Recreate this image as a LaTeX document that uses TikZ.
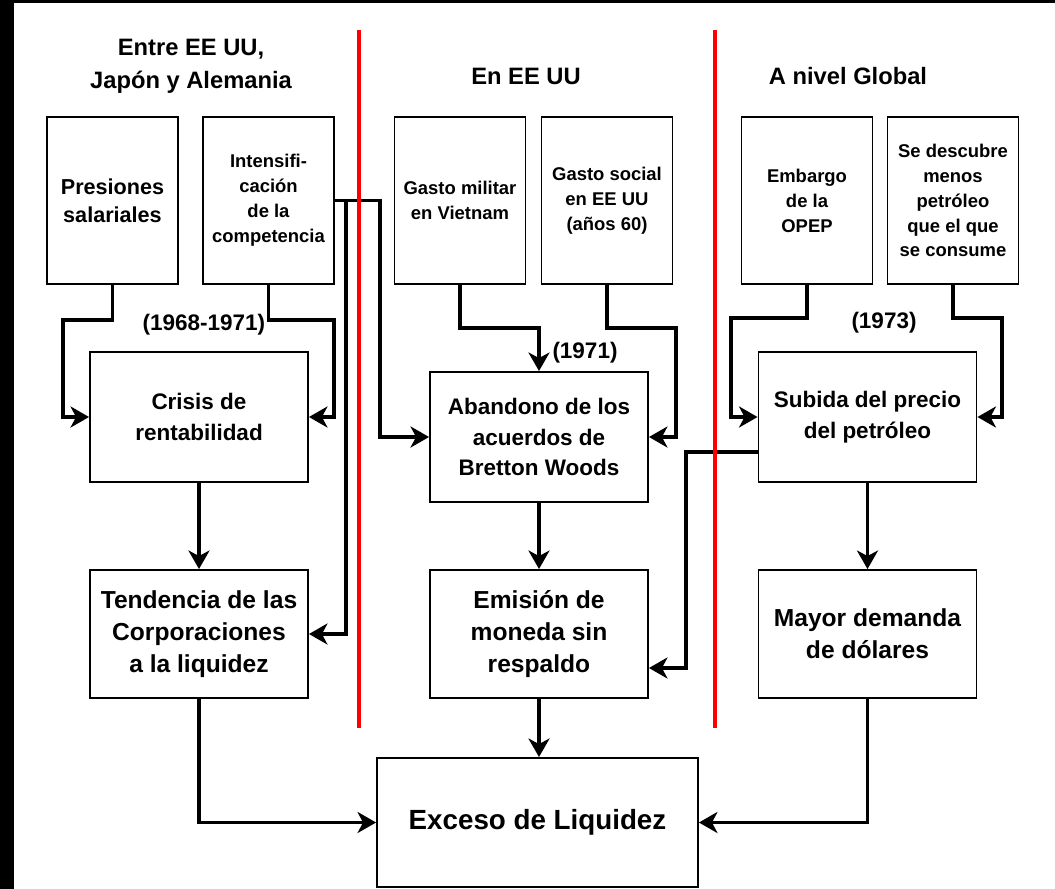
\documentclass[tikz,border=0pt]{standalone}
\usepackage{fontspec}
\setmainfont{Liberation Sans}
\usetikzlibrary{arrows.meta,calc}

\newcommand{\letrachica}{\fontsize{10.5}{14.2}\selectfont}
\newcommand{\letramedia}{\fontsize{12.8}{17.6}\selectfont}
\newcommand{\letragrande}{\fontsize{14}{18.2}\selectfont}
\newcommand{\letratitulo}{\fontsize{13.5}{18.8}\selectfont}

\tikzset{
  caja/.style={draw, line width=1.1pt, align=center, inner sep=0pt},
  cajaalta/.style={caja, minimum width=2.62cm, minimum height=3.34cm, font=\bfseries\letrachica},
  cajaancha/.style={caja, minimum width=4.36cm, minimum height=2.6cm, font=\bfseries\letramedia},
  flecha/.style={line width=2pt, -{Stealth[length=0.37cm,width=0.42cm,inset=0.11cm]}},
  divisor/.style={red, line width=2pt},
}

\begin{document}
\begin{tikzpicture}[x=0.02cm, y=-0.02cm]
    \useasboundingbox (0,0) rectangle (1055,889);
    % marco
    \fill[black] (0,0) rectangle (14,889);
    \fill[black] (0,0) rectangle (1055,3);

    % titulos
    \node[font=\bfseries\letratitulo, align=center] (titulo1) at (191,66) {Entre EE UU,\\Japón y Alemania};
    \node[font=\bfseries\letratitulo] (titulo2) at (526,76) {En EE UU};
    \node[font=\bfseries\letratitulo] (titulo3) at (848,76) {A nivel Global};

    % causas
    \node[cajaalta, font=\bfseries\fontsize{12.3}{16}\selectfont] (presiones) at (112.5,200.5) {Presiones\\salariales};
    \node[cajaalta] (competencia) at (268.5,200.5) {Intensifi-\\cación\\de la\\competencia};
    \node[cajaalta] (militar) at (460,200.5) {Gasto militar\\en Vietnam};
    \node[cajaalta] (social) at (607,200.5) {Gasto social\\en EE UU\\(años 60)};
    \node[cajaalta] (embargo) at (807,200.5) {Embargo\\de la\\OPEP};
    \node[cajaalta] (descubre) at (953,200.5) {Se descubre\\menos\\petróleo\\que el que\\se consume};

    \node[cajaancha] (crisis) at (199,417) {Crisis de\\rentabilidad};
    \node[cajaancha] (bretton) at (539,437) {Abandono de los\\acuerdos de\\Bretton Woods};
    \node[cajaancha] (subida) at (867.5,417) {Subida del precio\\del petróleo};

    \node[cajaancha, minimum height=2.56cm, font=\bfseries\letragrande] (tendencia) at (199,634) {Tendencia de las\\Corporaciones\\a la liquidez};
    \node[cajaancha, minimum height=2.56cm, font=\bfseries\letragrande] (emision) at (539,634) {Emisión de\\moneda sin\\respaldo};
    \node[cajaancha, minimum height=2.56cm, font=\bfseries\letragrande] (demanda) at (867.5,634) {Mayor demanda\\de dólares};

    \node[caja, minimum width=6.42cm, minimum height=2.58cm, font=\bfseries\fontsize{15.8}{18}\selectfont] (exceso) at (537.5,822.5) {Exceso de Liquidez};

    % fechas
    \node[font=\bfseries\letramedia] (fecha1) at (204,325) {(1968-1971)};
    \node[font=\bfseries\letramedia] (fecha2) at (585,353) {(1971)};
    \node[font=\bfseries\letramedia] (fecha3) at (884,323) {(1973)};

    % conectores
    \draw[flecha] (presiones.south) |- (63,320) |- (crisis.west);
    \draw[flecha] (competencia.south) |- (334,320) |- (crisis.east);
    \draw[flecha] (competencia.east) -- (380,200.5) |- (bretton.west);
    \coordinate (rama) at (346,200.5);
    \draw[flecha] (rama) |- (tendencia.east);
    \draw[flecha] (militar.south) -- (460,328) -| (bretton.north);
    \draw[flecha] (social.south) |- (676,328) |- (bretton.east);
    \draw[flecha] (embargo.south) |- (731,318) |- (subida.west);
    \draw[flecha] (descubre.south) |- (1002,318) |- (subida.east);
    \draw[flecha] ($(subida.west)+(0,35)$) -| (686,668) -- ($(emision.east)+(0,34)$);

    \draw[flecha] (crisis.south) -- (tendencia.north);
    \draw[flecha] (bretton.south) -- (emision.north);
    \draw[flecha] (subida.south) -- (demanda.north);
    \draw[flecha] (emision.south) -- (emision.south |- exceso.north);
    \draw[flecha] (tendencia.south) |- (exceso.west);
    \draw[flecha] (demanda.south) |- (exceso.east);

    % divisiones
    \draw[divisor] (359,30) -- (359,728);
    \draw[divisor] (715,30) -- (715,728);
\end{tikzpicture}
\end{document}
